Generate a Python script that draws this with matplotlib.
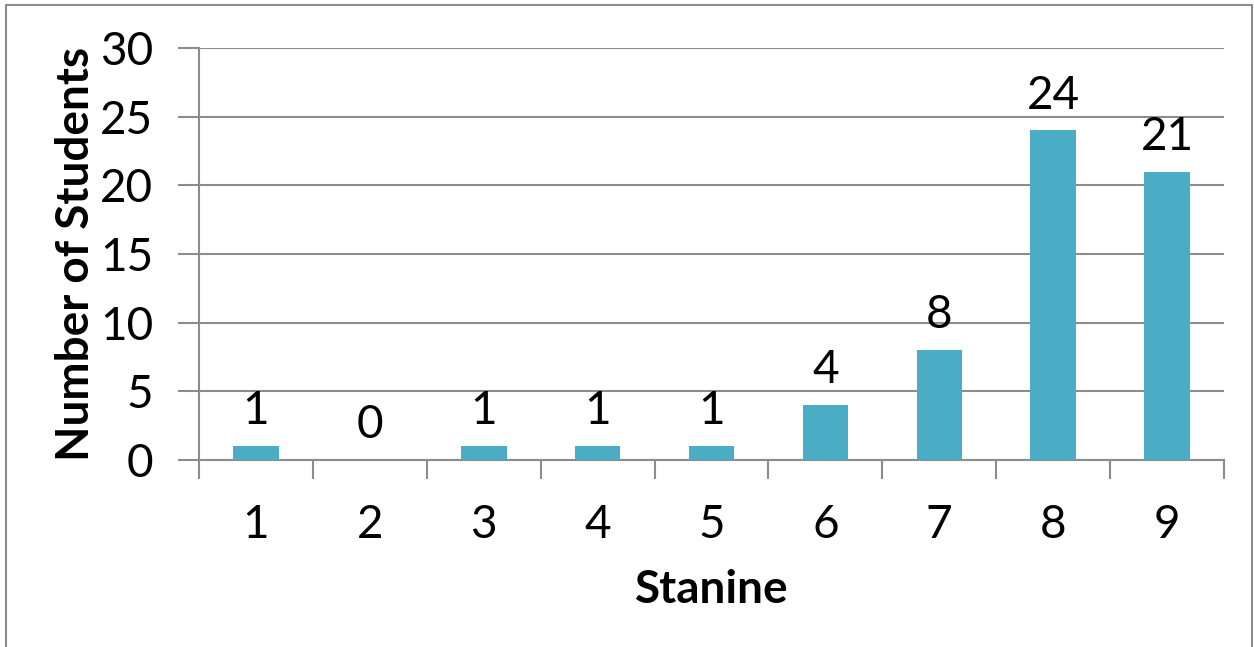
import numpy as np
import matplotlib
matplotlib.use("Agg")
import matplotlib.pyplot as plt
from matplotlib.patches import Rectangle

# data
stanines = ['1', '2', '3', '4', '5', '6', '7', '8', '9']
students = [1, 0, 1, 1, 1, 4, 8, 24, 21]

plt.rcParams['font.family'] = ['Lato', 'DejaVu Sans']

W, H = 1254, 647
fig = plt.figure(figsize=(W/100, H/100), dpi=100)
ax = fig.add_axes([199/W, 1-460/H, (1224-199)/W, (460-48)/H])

gray = '#8c8c8c'
fs = 33
x = np.arange(len(stanines))
bars = ax.bar(x, students, width=0.4, color='#4bacc6', zorder=3)

for xi, v in zip(x, students):
    ax.annotate(str(v), (xi, v), xytext=(0, 10), textcoords='offset points',
                ha='center', va='bottom', fontsize=fs)

ax.set_xlim(-0.5, len(stanines) - 0.5)
ax.set_ylim(0, 30)
ax.set_yticks(np.arange(0, 31, 5))
ax.set_xticks(np.arange(-0.5, len(stanines), 1))
ax.set_xticklabels([])
ax.set_xticks(x, minor=True)
ax.set_xticklabels(stanines, minor=True)
ax.tick_params(axis='x', which='major', length=14, width=1.5, color=gray, direction='out')
ax.tick_params(axis='x', which='minor', length=0, pad=32, labelsize=fs)
ax.tick_params(axis='y', length=15, width=1.5, color=gray, labelsize=fs, pad=18)
ax.grid(axis='y', color=gray, linewidth=1.5, zorder=0)

for s in ['top', 'right']:
    ax.spines[s].set_visible(False)
for s in ['left', 'bottom']:
    ax.spines[s].set_color(gray)
    ax.spines[s].set_linewidth(1.5)

ax.set_ylabel('Number of Students', fontsize=fs, fontweight='bold', labelpad=2)
ax.set_xlabel('Stanine', fontsize=fs, fontweight='bold', labelpad=16)

# outer chart border
fig.patches.append(Rectangle((6/W, -0.01), (1252-6)/W, 1-5/H + 0.01,
                             transform=fig.transFigure, fill=False,
                             edgecolor=gray, linewidth=1.5))

fig.savefig('out.png', dpi=100)
